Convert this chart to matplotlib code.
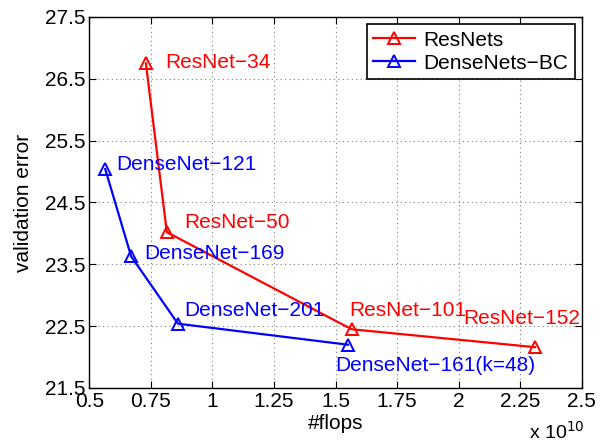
import matplotlib.pyplot as plt
import numpy as np

plt.rcParams['font.family'] = ['Liberation Sans', 'DejaVu Sans']

# flops in units of 1e10, top-1 validation error
resnet_names = ['ResNet\u221234', 'ResNet\u221250', 'ResNet\u2212101', 'ResNet\u2212152']
resnet_flops = [0.73, 0.815, 1.565, 2.31]
resnet_err = [26.75, 24.02, 22.45, 22.16]

densenet_names = ['DenseNet\u2212121', 'DenseNet\u2212169', 'DenseNet\u2212201', 'DenseNet\u2212161(k=48)']
densenet_flops = [0.565, 0.67, 0.86, 1.55]
densenet_err = [25.04, 23.63, 22.54, 22.2]

# label anchor points (data coords)
resnet_lx = [0.81, 0.885, 1.555, 2.02]
resnet_ly = [26.77, 24.17, 22.76, 22.62]
densenet_lx = [0.61, 0.725, 0.885, 1.5]
densenet_ly = [25.12, 23.68, 22.76, 21.86]

fs = 15

fig = plt.figure(figsize=(6.03, 4.47), dpi=100)
ax = fig.add_axes([0.148, 0.132, 0.817, 0.83])

ax.plot(resnet_flops, resnet_err, color='red', lw=1.6, marker='^',
        mfc='none', mec='red', ms=9, mew=1.4, label='ResNets')
ax.plot(densenet_flops, densenet_err, color='blue', lw=1.6, marker='^',
        mfc='none', mec='blue', ms=9, mew=1.4, label='DenseNets\u2212BC')

for name, x, y in zip(resnet_names, resnet_lx, resnet_ly):
    ax.text(x, y, name, color='red', fontsize=fs, va='center', ha='left')
for name, x, y in zip(densenet_names, densenet_lx, densenet_ly):
    ax.text(x, y, name, color='blue', fontsize=fs, va='center', ha='left')

ax.set_xlim(0.5, 2.5)
ax.set_ylim(21.5, 27.5)
xt = np.arange(0.5, 2.51, 0.25)
ax.set_xticks(xt)
ax.set_xticklabels(['0.5', '0.75', '1', '1.25', '1.5', '1.75', '2', '2.25', '2.5'])
yt = np.arange(21.5, 27.6, 1)
ax.set_yticks(yt)
ax.set_yticklabels(['21.5', '22.5', '23.5', '24.5', '25.5', '26.5', '27.5'])
ax.tick_params(direction='in', top=True, right=True, labelsize=fs, length=5, pad=3)
ax.grid(True, linestyle=(0, (1, 3)), color='#808080', lw=0.8)
for s in ax.spines.values():
    s.set_linewidth(1.0)

ax.set_xlabel('#flops', fontsize=fs, labelpad=2)
ax.set_ylabel('validation error', fontsize=fs, labelpad=8)
fig.text(584 / 603, 1 - 432 / 447, r'x 10$^{10}$', fontsize=14,
         ha='right', va='center')

leg = ax.legend(loc='upper right', fontsize=fs, fancybox=False, framealpha=1,
                edgecolor='black', handlelength=2.0, borderaxespad=0.35,
                borderpad=0.3, labelspacing=0.2, handletextpad=0.4)
leg.get_frame().set_linewidth(1.2)

fig.savefig('out.png', dpi=100)
